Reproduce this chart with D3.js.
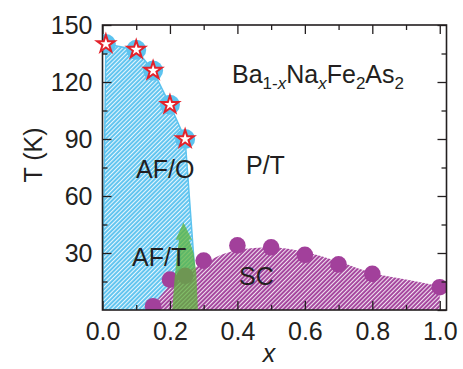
<!DOCTYPE html>
<html>
<head>
<meta charset="utf-8">
<script src="https://cdn.jsdelivr.net/npm/d3@7/dist/d3.min.js"></script>
<style>
  body { margin: 0; background: #fff; }
  svg { display: block; font-family: "Liberation Sans", Arial, sans-serif; }
</style>
</head>
<body>
<svg id="chart" width="463" height="369"></svg>
<script>
// AF/O transition (stars)
var starX = [0.01, 0.1, 0.15, 0.2, 0.245];
var starT = [140, 137, 126, 108, 90];
// AF/O region outline
var afoX = [0, 0.01, 0.1, 0.15, 0.2, 0.245, 0.282, 0];
var afoT = [0, 140, 137, 126, 108, 90, 0, 0];
// SC dome (circles)
var scX = [0.15, 0.2, 0.3, 0.4, 0.5, 0.6, 0.7, 0.8, 1.0];
var scT = [2, 16, 26, 34, 33, 29, 24, 19, 12];
var scHiddenX = [0.245];   // circle under the green arrow
var scHiddenT = [18];
// SC region edge
var scEdgeX = [0.14, 0.2, 0.27, 0.3, 0.35, 0.4, 0.5, 0.6, 0.7, 0.8, 0.9, 1.0, 1.0];
var scEdgeT = [0, 13, 22, 24.5, 29, 31.5, 33, 30.5, 25.5, 19.5, 16, 12.5, 0];
// AF/T arrow
var aftX = [0.207, 0.213, 0.220, 0.227, 0.217, 0.240, 0.265, 0.257, 0.270, 0.278, 0.283];
var aftT = [0, 15, 28, 37, 37, 46, 37, 37, 30, 20, 0];

var xMajor = [0, 0.2, 0.4, 0.6, 0.8, 1.0];
var xMinor = [0.1, 0.3, 0.5, 0.7, 0.9];
var yMajor = [0, 30, 60, 90, 120, 150];
var yMinor = [15, 45, 75, 105, 135];

var svg = d3.select("#chart");
var x = d3.scaleLinear().domain([0, 1.02]).range([102.5, 446.5]);
var y = d3.scaleLinear().domain([0, 150]).range([310, 25]);
var ink = "#231f20";
var blue = "#5cc3ef", purple = "#a2409b";

// hatch patterns
var defs = svg.append("defs");
function hatch(id, color){
    var p = defs.append("pattern")
        .attr("id", id)
        .attr("patternUnits", "userSpaceOnUse")
        .attr("width", 3).attr("height", 3)
        .attr("patternTransform", "rotate(45)");
    p.append("rect").attr("width", 3).attr("height", 3).attr("fill", color);
    p.append("rect").attr("x", 0).attr("width", 1.1).attr("height", 3).attr("fill", "#fff").attr("opacity", 0.85);
}
hatch("hBlue", blue);
hatch("hPurple", purple);

defs.append("clipPath").attr("id", "clip")
    .append("rect").attr("x", x(0)).attr("y", y(150))
    .attr("width", x(1.02) - x(0)).attr("height", y(0) - y(150));

var plot = svg.append("g").attr("clip-path", "url(#clip)");

var line = d3.line().x(function(d){return x(d[0])}).y(function(d){return y(d[1])});

// AF/O region
plot.append("path")
    .attr("d", line(d3.zip(afoX, afoT)) + "Z")
    .attr("fill", "url(#hBlue)")
    .attr("stroke", blue).attr("stroke-width", 1.5);
plot.selectAll(".halo")
    .data(d3.zip(starX, starT))
    .enter().append("circle")
    .attr("cx", function(d){return x(d[0])})
    .attr("cy", function(d){return y(d[1])})
    .attr("r", 10)
    .attr("fill", blue);

// SC region
var scLine = d3.line().curve(d3.curveMonotoneX)
    .x(function(d){return x(d[0])}).y(function(d){return y(d[1])});
var scPts = d3.zip(scEdgeX, scEdgeT);
plot.append("path")
    .attr("d", scLine(scPts.slice(0, scPts.length - 1)) + "L" + x(1.0) + "," + y(0) + "Z")
    .attr("fill", "url(#hPurple)");

plot.selectAll(".sc")
    .data(d3.zip(scX, scT).concat(d3.zip(scHiddenX, scHiddenT)))
    .enter().append("circle")
    .attr("cx", function(d){return x(d[0])})
    .attr("cy", function(d){return y(d[1])})
    .attr("r", 8.3)
    .attr("fill", purple);

// AF/T arrow
plot.append("path")
    .attr("d", line(d3.zip(aftX, aftT)) + "Z")
    .attr("fill", "#5cb33b")
    .attr("opacity", 0.75);

// axes (inward ticks on all sides)
function axisSet(maker, scale, major, minor, tr, labels){
    var g = svg.append("g").attr("transform", tr);
    g.call(maker(scale).tickValues(minor).tickSize(-5).tickFormat(""));
    var a = maker(scale).tickValues(major).tickSize(-9).tickPadding(labels ? 8 : 0);
    a.tickFormat(labels ? labels : "");
    var g2 = svg.append("g").attr("transform", tr).call(a);
    [g, g2].forEach(function(s){
        s.select(".domain").remove();
        s.selectAll("line").attr("stroke", ink).attr("stroke-width", 1.3);
    });
    g2.selectAll("text").attr("fill", ink).style("font-size", "25px");
    return g2;
}
var gx = axisSet(d3.axisBottom, x, xMajor, xMinor, "translate(0," + y(0) + ")", d3.format(".1f"));
gx.selectAll("text").attr("y", 12).attr("dy", "0.71em");
axisSet(d3.axisTop, x, xMajor, xMinor, "translate(0," + y(150) + ")", null);
var gy = axisSet(d3.axisLeft, y, yMajor.slice(1), yMinor, "translate(" + x(0) + ",0)", d3.format("d"));
gy.selectAll("text").attr("x", -10);
axisSet(d3.axisRight, y, yMajor, yMinor, "translate(" + x(1.02) + ",0)", null);

svg.append("rect")
    .attr("x", x(0)).attr("y", y(150))
    .attr("width", x(1.02) - x(0)).attr("height", y(0) - y(150))
    .attr("fill", "none").attr("stroke", ink).attr("stroke-width", 1.6);

// stars on top
svg.selectAll(".star")
    .data(d3.zip(starX, starT))
    .enter().append("path")
    .attr("d", d3.symbol(d3.symbolStar, 95))
    .attr("transform", function(d){return "translate(" + x(d[0]) + "," + y(d[1]) + ")"})
    .attr("fill", "#fff")
    .attr("stroke", "#e3222b")
    .attr("stroke-width", 2)
    .attr("stroke-linejoin", "miter");

// labels
function label(tx, px, py){
    svg.append("text").attr("x", px).attr("y", py)
        .attr("fill", ink).style("font-size", "25px").text(tx);
}
label("AF/O", 136, 178);
label("P/T", 246, 174);
label("AF/T", 132, 266);
label("SC", 239, 285);

var title = svg.append("text").attr("x", 232).attr("y", 83)
    .attr("fill", ink).style("font-size", "25px");
title.append("tspan").text("Ba");
title.append("tspan").attr("dy", 6).style("font-size", "17px").text("1-");
title.append("tspan").style("font-size", "17px").style("font-style", "italic").text("x");
title.append("tspan").attr("dy", -6).text("Na");
title.append("tspan").attr("dy", 6).style("font-size", "17px").style("font-style", "italic").text("x");
title.append("tspan").attr("dy", -6).text("Fe");
title.append("tspan").attr("dy", 6).style("font-size", "17px").text("2");
title.append("tspan").attr("dy", -6).text("As");
title.append("tspan").attr("dy", 6).style("font-size", "17px").text("2");

svg.append("text")
    .attr("transform", "translate(42,155) rotate(-90)")
    .attr("text-anchor", "middle")
    .attr("fill", ink).style("font-size", "25px")
    .text("T (K)");
svg.append("text")
    .attr("x", 269).attr("y", 362)
    .attr("text-anchor", "middle")
    .attr("fill", ink).style("font-size", "25px").style("font-style", "italic")
    .text("x");
</script>
</body>
</html>
